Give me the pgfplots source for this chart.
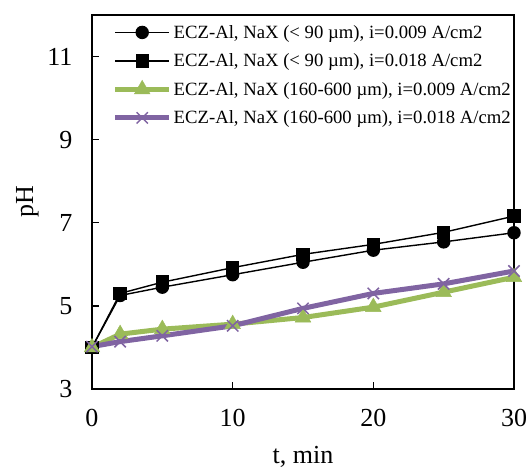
\documentclass[border=0pt]{standalone}
\usepackage{fontspec}
\setmainfont{Liberation Serif}
\usepackage{pgfplots}
\pgfplotsset{compat=1.18}
\definecolor{ogreen}{RGB}{155,187,89}
\definecolor{opurple}{RGB}{128,100,162}
\begin{document}
\begin{tikzpicture}
    \begin{axis}[%
            scale only axis,
            width=422pt,
            height=374pt,
            xmin=0, xmax=30,
            ymin=3, ymax=12,
            xtick={0,10,20,30},
            ytick={3,5,7,9,11},
            tick align=inside,
            xtick pos=left,
            ytick pos=left,
            major tick length=7pt,
            axis line style={line width=1.3pt},
            tick style={line width=1.3pt, black},
            clip=false,
            /pgf/number format/assume math mode=true,
            tick label style={font=\fontsize{26}{29}\selectfont},
            xticklabel style={yshift=-17pt},
            yticklabel style={xshift=-16pt},
            label style={font=\fontsize{26}{29}\selectfont},
            xlabel={t, min},
            ylabel={pH},
            xlabel style={yshift=-12pt},
            ylabel style={yshift=2pt},
            legend style={at={(1,1)}, anchor=north east, draw=none, fill=none,
                font=\fontsize{18.7}{21}\selectfont, row sep=10pt,
                xshift=2pt, yshift=-6pt},
            legend cell align=left,
            legend image code/.code={%
                \draw[mark repeat=2, mark phase=2, #1] plot coordinates {(0pt,0pt) (27pt,0pt) (54pt,0pt)};},
        ]
        \addplot[black, line width=1.4pt, mark=*, mark size=6pt]
        coordinates {(0,4.0) (2,5.25) (5,5.45) (10,5.75) (15,6.05) (20,6.34) (25,6.54) (30,6.76)};
        \addlegendentry{ECZ-Al, NaX (< 90 µm), i=0.009 A/cm2}
        \addplot[black, line width=1.4pt, mark=square*, mark size=6pt]
        coordinates {(0,4.0) (2,5.3) (5,5.57) (10,5.92) (15,6.24) (20,6.48) (25,6.77) (30,7.16)};
        \addlegendentry{ECZ-Al, NaX (< 90 µm), i=0.018 A/cm2}
        \addplot[ogreen, line width=5pt, mark=triangle*, mark size=9pt,
            mark options={line width=0.5pt, fill=ogreen}]
        coordinates {(0,4.0) (2,4.32) (5,4.44) (10,4.56) (15,4.72) (20,4.97) (25,5.33) (30,5.69)};
        \addlegendentry{ECZ-Al, NaX (160-600 µm), i=0.009 A/cm2}
        \addplot[opurple, line width=5pt, mark=x, mark size=8pt,
            mark options={line width=1.5pt}]
        coordinates {(0,4.02) (2,4.14) (5,4.28) (10,4.52) (15,4.94) (20,5.30) (25,5.53) (30,5.84)};
        \addlegendentry{ECZ-Al, NaX (160-600 µm), i=0.018 A/cm2}
    \end{axis}
    \pgfresetboundingbox
    \path ([xshift=-92pt,yshift=-80pt]current axis.south west)
        rectangle ([xshift=16pt,yshift=15pt]current axis.north east);
\end{tikzpicture}
\end{document}
